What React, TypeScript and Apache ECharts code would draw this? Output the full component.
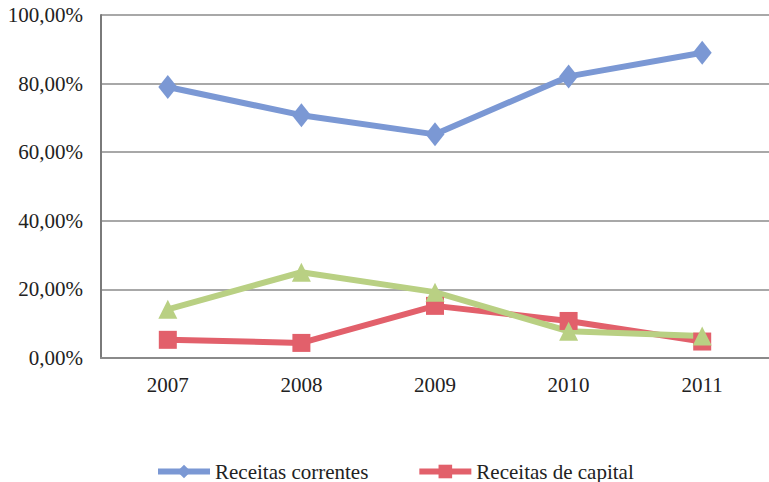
import React, { useEffect, useRef } from "react";
import * as echarts from "echarts";

const categories = ["2007", "2008", "2009", "2010", "2011"];
const correntes = [79.0, 70.8, 65.2, 82.1, 89.0];
const capital = [5.3, 4.4, 15.2, 10.8, 4.8];
const outras = [14.2, 25.0, 19.2, 7.8, 6.4];
const yTicks = [0, 20, 40, 60, 80, 100];

const fmt = (v: number) => v.toFixed(2).replace(".", ",") + "%";

export default function App() {
  const ref = useRef<HTMLDivElement>(null);
  useEffect(() => {
    if (!ref.current) return;
    const chart = echarts.init(ref.current, null, { renderer: "svg" });
    const font = "Liberation Serif";
    chart.setOption({
      animation: false,
      backgroundColor: "#ffffff",
      textStyle: { fontFamily: font },
      grid: { left: 101, top: 15, bottom: 124, right: -5, containLabel: false },
      legend: {
        data: ["Receitas correntes", "Receitas de capital"],
        left: 150,
        top: 456,
        itemWidth: 52,
        itemHeight: 17,
        itemGap: 48,
        lineStyle: { width: 6 },
        textStyle: { fontFamily: font, fontSize: 21, color: "#222" },
      },
      xAxis: {
        type: "category",
        data: categories,
        boundaryGap: true,
        axisLine: { show: true, lineStyle: { color: "#8a8a8a", width: 2 } },
        axisTick: { show: false },
        axisLabel: { fontFamily: font, fontSize: 21, color: "#222", margin: 16 },
      },
      yAxis: {
        type: "value",
        min: yTicks[0],
        max: yTicks[yTicks.length - 1],
        interval: 20,
        axisLine: { show: true, lineStyle: { color: "#7a7a7a", width: 2 } },
        axisTick: { show: false },
        splitLine: { lineStyle: { color: "#a8a8a8", width: 2 } },
        axisLabel: {
          fontFamily: font,
          fontSize: 21,
          color: "#222",
          margin: 18,
          formatter: (v: number) => fmt(v),
        },
      },
      series: [
        {
          name: "Receitas correntes",
          type: "line",
          data: correntes,
          symbol: "diamond",
          symbolSize: [19, 24],
          lineStyle: { color: "#7b98d4", width: 6 },
          itemStyle: { color: "#7b98d4" },
        },
        {
          name: "Receitas de capital",
          type: "line",
          data: capital,
          symbol: "rect",
          symbolSize: 18,
          lineStyle: { color: "#e2606b", width: 6 },
          itemStyle: { color: "#e2606b" },
        },
        {
          name: "Outras",
          type: "line",
          data: outras,
          symbol: "triangle",
          symbolSize: 19,
          lineStyle: { color: "#b9d083", width: 6 },
          itemStyle: { color: "#b9d083" },
        },
      ],
    });
    return () => chart.dispose();
  }, []);
  return <div ref={ref} style={{ width: 769, height: 482, position: "absolute", left: 0, top: 0 }} />;
}
